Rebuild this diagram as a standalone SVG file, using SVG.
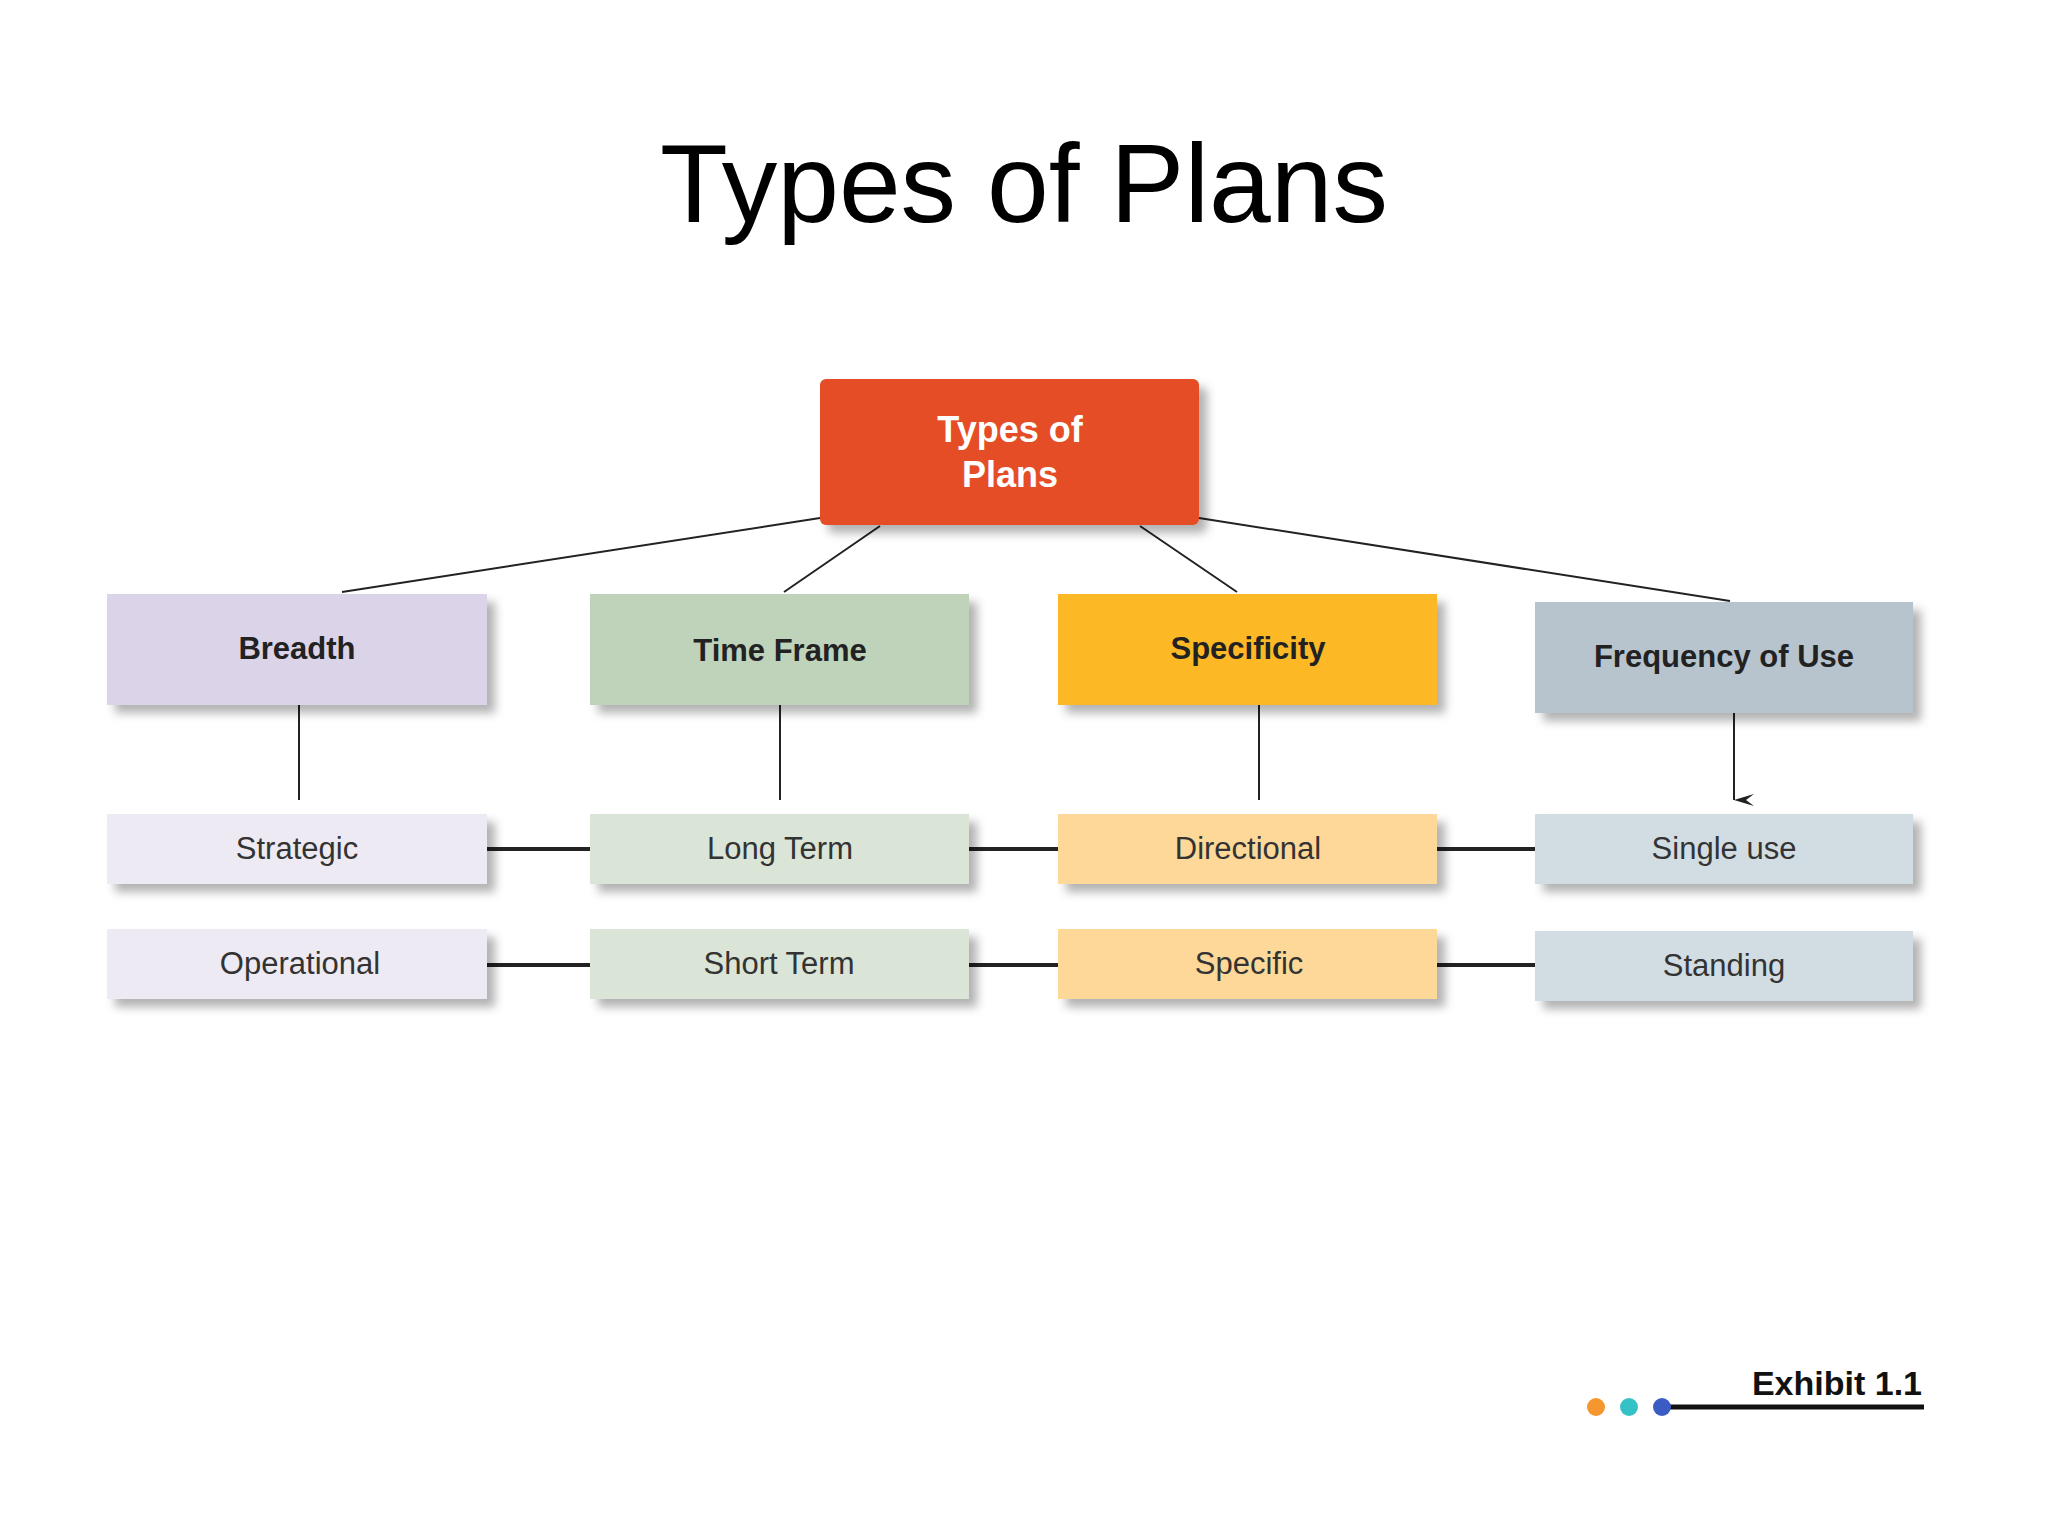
<svg xmlns="http://www.w3.org/2000/svg" width="2048" height="1536" viewBox="0 0 2048 1536">
<defs>
<filter id="sh" x="-10%" y="-20%" width="130%" height="160%"><feDropShadow dx="8" dy="8" stdDeviation="5" flood-color="#000" flood-opacity="0.3"/></filter>
<marker id="ar" markerWidth="12" markerHeight="22" refX="6" refY="20" orient="auto" markerUnits="userSpaceOnUse" viewBox="0 0 12 22"><path d="M0,0 L6,20 L12,0 L6,8 Z" fill="#222"/></marker>
</defs>
<style>
.h{font-family:"Liberation Sans",Arial,sans-serif;font-weight:bold;font-size:31px;fill:#222;text-anchor:middle}
.r{font-family:"Liberation Sans",Arial,sans-serif;font-size:31px;fill:#333;text-anchor:middle}
.l{stroke:#222;stroke-width:2;fill:none}
.t{stroke:#222;stroke-width:4;fill:none}
</style>
<rect width="2048" height="1536" fill="#fff"/>
<text x="1024" y="222" font-family="Liberation Sans,Arial,sans-serif" font-size="111" text-anchor="middle" fill="#000">Types of Plans</text>
<g id="connectors">
<path class="l" d="M820,518 L342,592 M880,526 L784,592 M1140,526 L1237,592 M1199,518 L1730,601"/>
<path class="l" d="M299,705 V800 M780,705 V800 M1259,705 V800 M1734,713 V800" marker-end="url(#ar)"/>
<path class="t" d="M487,849 H590 M969,849 H1058 M1437,849 H1535 M487,965 H590 M969,965 H1058 M1437,965 H1535"/>
</g>
<g id="root"><rect x="820" y="379" width="379" height="146" rx="6" fill="#E54E26" filter="url(#sh)"/><text class="h" x="1010" y="442" fill="#fff" style="fill:#fff;font-size:36px">Types of</text><text class="h" style="fill:#fff;font-size:36px" x="1010" y="487">Plans</text></g>
<g id="breadth"><rect x="107" y="594" width="380" height="111" fill="#DBD3E8" filter="url(#sh)"/><text class="h" x="297" y="659">Breadth</text></g>
<g id="timeframe"><rect x="590" y="594" width="379" height="111" fill="#BFD3BB" filter="url(#sh)"/><text class="h" x="780" y="661">Time Frame</text></g>
<g id="specificity"><rect x="1058" y="594" width="379" height="111" fill="#FDB827" filter="url(#sh)"/><text class="h" x="1248" y="659">Specificity</text></g>
<g id="frequency"><rect x="1535" y="602" width="378" height="111" fill="#B7C4CE" filter="url(#sh)"/><text class="h" x="1724" y="667">Frequency of Use</text></g>
<g id="strategic"><rect x="107" y="814" width="380" height="70" fill="#EDEAF3" filter="url(#sh)"/><text class="r" x="297" y="859">Strategic</text></g>
<g id="longterm"><rect x="590" y="814" width="379" height="70" fill="#DAE5D8" filter="url(#sh)"/><text class="r" x="780" y="859">Long Term</text></g>
<g id="directional"><rect x="1058" y="814" width="379" height="70" fill="#FDD898" filter="url(#sh)"/><text class="r" x="1248" y="859">Directional</text></g>
<g id="singleuse"><rect x="1535" y="814" width="378" height="70" fill="#D2DCE3" filter="url(#sh)"/><text class="r" x="1724" y="859">Single use</text></g>
<g id="operational"><rect x="107" y="929" width="380" height="70" fill="#EDEAF3" filter="url(#sh)"/><text class="r" x="300" y="974">Operational</text></g>
<g id="shortterm"><rect x="590" y="929" width="379" height="70" fill="#DAE5D8" filter="url(#sh)"/><text class="r" x="779" y="974">Short Term</text></g>
<g id="specific"><rect x="1058" y="929" width="379" height="70" fill="#FDD898" filter="url(#sh)"/><text class="r" x="1249" y="974">Specific</text></g>
<g id="standing"><rect x="1535" y="931" width="378" height="70" fill="#D2DCE3" filter="url(#sh)"/><text class="r" x="1724" y="976">Standing</text></g>
<g id="exhibit">
<text x="1922" y="1395" font-family="Liberation Sans,Arial,sans-serif" font-weight="bold" font-size="34" text-anchor="end" fill="#111">Exhibit 1.1</text>
<line x1="1662" y1="1407" x2="1924" y2="1407" stroke="#111" stroke-width="5"/>
<circle cx="1596" cy="1407" r="9" fill="#F5962F"/><circle cx="1629" cy="1407" r="9" fill="#35C2C6"/><circle cx="1662" cy="1407" r="9" fill="#3A5CC4"/>
</g>
</svg>
